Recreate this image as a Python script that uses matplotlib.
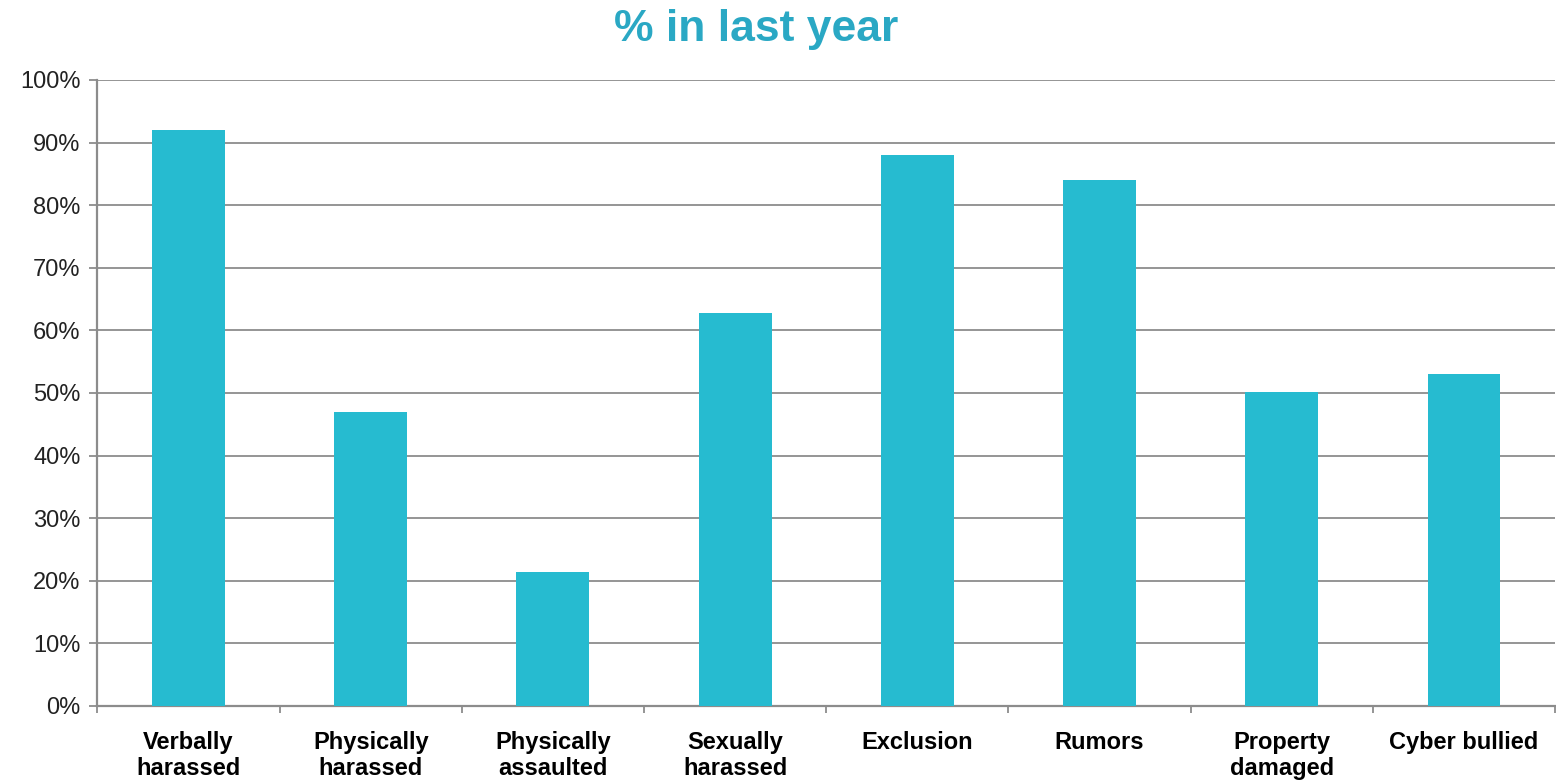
import numpy as np
import matplotlib.pyplot as plt
from matplotlib.ticker import FuncFormatter, FixedLocator

plt.rcParams['font.family'] = ['Liberation Sans', 'DejaVu Sans']

# Datos
categories = ["Verbally\nharassed", "Physically\nharassed", "Physically\nassaulted",
              "Sexually\nharassed", "Exclusion", "Rumors", "Property\ndamaged", "Cyber bullied"]
values = [92, 47, 21.4, 62.8, 88, 84, 50.1, 53.1]
yticks = [0, 10, 20, 30, 40, 50, 60, 70, 80, 90, 100]

bar_color = '#26BBD0'
grid_color = '#8c8c8c'

fig = plt.figure(figsize=(15.56, 7.82), dpi=100)
ax = fig.add_axes([0.0626, 0.0972, 0.9368, 0.8005])

x = np.arange(len(categories))
ax.bar(x, values, width=0.4, color=bar_color, zorder=3)

ax.set_xlim(-0.5, len(categories) - 0.5)
ax.set_ylim(0, 100)
ax.set_yticks(yticks)
ax.yaxis.set_major_formatter(FuncFormatter(lambda v, p: f"{v:.0f}%"))
ax.grid(axis='y', color=grid_color, linewidth=1.3, zorder=0)

# Etiquetas de categorias
ax.set_xticks(x)
ax.set_xticklabels(categories, fontsize=17, fontweight='bold', linespacing=1.15)
ax.tick_params(axis='x', which='major', length=0, pad=18)
ax.xaxis.set_minor_locator(FixedLocator(np.arange(len(categories) + 1) - 0.5))
ax.tick_params(axis='x', which='minor', length=5, color=grid_color, width=1.3)
ax.tick_params(axis='y', length=6, color=grid_color, width=1.3, labelsize=17, pad=6,
               labelcolor='#222222')

for s in ['top', 'right']:
    ax.spines[s].set_visible(False)
for s in ['left', 'bottom']:
    ax.spines[s].set_color(grid_color)
    ax.spines[s].set_linewidth(1.6)

fig.text(0.486, 0.962, "% in last year", ha='center', va='center', fontsize=32,
         fontweight='bold', color='#2AA8C4')

fig.savefig('out.png', dpi=100)
